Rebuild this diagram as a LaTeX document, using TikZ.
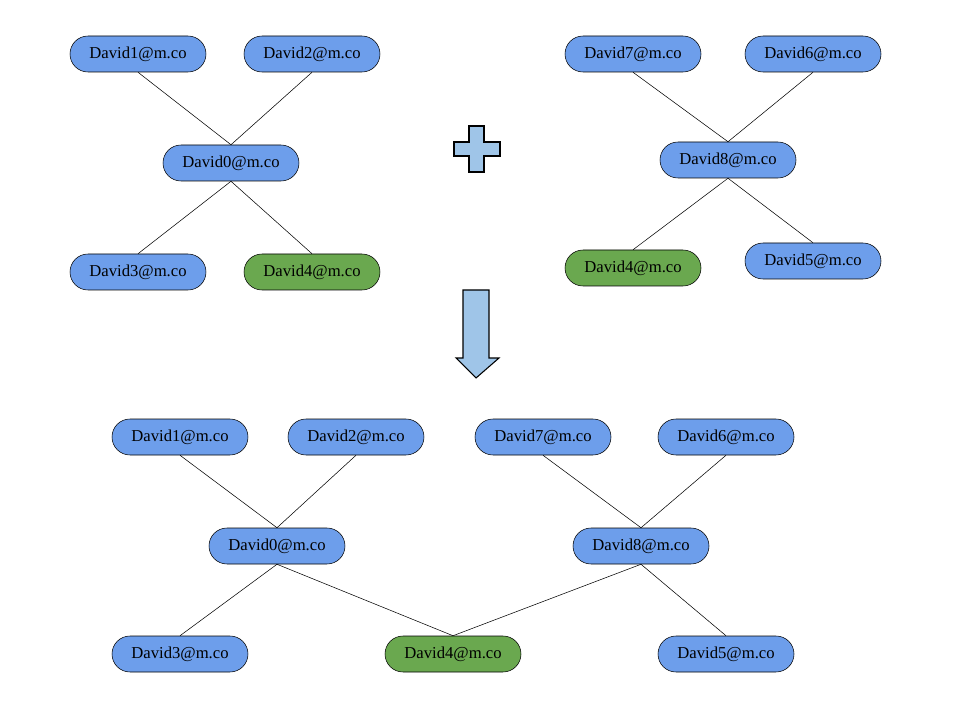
\documentclass[tikz,border=0pt]{standalone}
\usepackage{fontspec}
\setmainfont{Liberation Serif}
\definecolor{nodeblue}{HTML}{6D9EEB}
\definecolor{nodegreen}{HTML}{6AA84F}
\definecolor{lightblue}{HTML}{9FC5E8}

\begin{document}
\begin{tikzpicture}[
    x=0.75pt, y=-0.75pt,
    mail/.style={rectangle, rounded corners=13.5pt, draw=black, fill=nodeblue,
        minimum width=102pt, minimum height=27pt, inner sep=2pt,
        font=\fontsize{12.5}{15}\selectfont},
    shared/.style={mail, fill=nodegreen},
    edge/.style={thin, -},
    bigsign/.style={draw=black, thick, fill=lightblue, line join=miter}
]
    \useasboundingbox (0,0) rectangle (960,720);
    % first tree
    \node[mail] (a1) at (138,54) {David1@m.co};
    \node[mail] (a2) at (312,54) {David2@m.co};
    \node[mail] (a0) at (231,163) {David0@m.co};
    \node[mail] (a3) at (138,272) {David3@m.co};
    \node[shared] (a4) at (312,272) {David4@m.co};
    \draw[edge] (a1.south) -- (a0.north);
    \draw[edge] (a2.south) -- (a0.north);
    \draw[edge] (a0.south) -- (a3.north);
    \draw[edge] (a0.south) -- (a4.north);
    % second tree
    \node[mail] (b7) at (633,54) {David7@m.co};
    \node[mail] (b6) at (813,54) {David6@m.co};
    \node[mail] (b8) at (728,160) {David8@m.co};
    \node[shared] (b4) at (633,268) {David4@m.co};
    \node[mail] (b5) at (813,261) {David5@m.co};
    \draw[edge] (b7.south) -- (b8.north);
    \draw[edge] (b6.south) -- (b8.north);
    \draw[edge] (b8.south) -- (b4.north);
    \draw[edge] (b8.south) -- (b5.north);
    % plus and arrow
    \draw[bigsign] (469,126) -- (484,126) -- (484,142) -- (500,142) -- (500,156)
        -- (484,156) -- (484,172) -- (469,172) -- (469,156) -- (454,156)
        -- (454,142) -- (469,142) -- cycle;
    \draw[bigsign] (463,290) -- (489,290) -- (489,358) -- (499,358) -- (476,378)
        -- (456,358) -- (463,358) -- cycle;
    % merged tree
    \node[mail] (c1) at (180,437) {David1@m.co};
    \node[mail] (c2) at (356,437) {David2@m.co};
    \node[mail] (c7) at (543,437) {David7@m.co};
    \node[mail] (c6) at (726,437) {David6@m.co};
    \node[mail] (c0) at (277,546) {David0@m.co};
    \node[mail] (c8) at (641,546) {David8@m.co};
    \node[mail] (c3) at (180,654) {David3@m.co};
    \node[shared] (c4) at (453,654) {David4@m.co};
    \node[mail] (c5) at (726,654) {David5@m.co};
    \draw[edge] (c1.south) -- (c0.north);
    \draw[edge] (c2.south) -- (c0.north);
    \draw[edge] (c7.south) -- (c8.north);
    \draw[edge] (c6.south) -- (c8.north);
    \draw[edge] (c0.south) -- (c3.north);
    \draw[edge] (c0.south) -- (c4.north);
    \draw[edge] (c8.south) -- (c4.north);
    \draw[edge] (c8.south) -- (c5.north);
\end{tikzpicture}
\end{document}
